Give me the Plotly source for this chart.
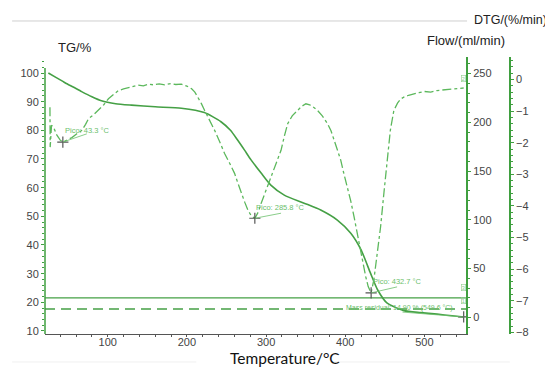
import plotly.graph_objects as go

# ---------------- data ----------------
tg_temp = [25, 35, 46, 57, 67, 80, 92, 110, 130, 160, 193, 222, 243, 255, 264, 273, 281,
           294, 306, 323, 348, 369, 390, 407, 420, 432, 441, 453, 474, 495, 516, 535, 549.6]
tg_mass = [100, 98.4, 96.6, 95.0, 93.5, 91.7, 90.3, 89.3, 88.8, 88.2, 87.7, 86.2, 83.0, 80.0,
           76.6, 73.0, 69.7, 65.0, 60.9, 57.4, 54.6, 52.2, 48.7, 44.1, 38.3, 30.1, 24.3, 19.7,
           17.1, 16.4, 15.9, 15.3, 14.9]

dtg_temp = [27, 27.3, 29, 31.7, 35.8, 40, 43.3, 48, 54.7, 61, 67.3, 72, 75.7, 82, 88.3, 95,
            100.9, 107, 113.5, 120, 130, 138, 145, 151, 158, 165, 172, 180, 186, 193, 200,
            205.7, 210, 214, 218, 222.4, 228, 235, 241, 247.6, 254, 260.2, 264, 268.6, 273,
            277, 281, 285.8, 290, 293.7, 300, 306.3, 312, 318.9, 323, 327.3, 333, 339.9, 345,
            350.3, 355, 360, 365, 371, 377.6, 382, 386, 390, 394.3, 398, 402.8, 407, 411.1,
            415, 419.5, 423, 425.8, 429, 432.7, 436.2, 440, 444.7, 449, 453.1, 457, 461.4,
            466, 470, 474, 480, 486.6, 493, 500, 508, 516, 524, 532, 540, 545.3, 549.6]
dtg_rate = [-0.88, -2.14, -1.45, -1.52, -1.76, -1.92, -1.98, -1.93, -1.84, -1.72, -1.61,
            -1.42, -1.24, -1.12, -0.98, -0.80, -0.61, -0.48, -0.35, -0.30, -0.22, -0.18,
            -0.20, -0.15, -0.17, -0.14, -0.17, -0.13, -0.16, -0.15, -0.21, -0.29, -0.40,
            -0.56, -0.75, -0.98, -1.25, -1.61, -1.95, -2.34, -2.65, -2.97, -3.25, -3.60,
            -3.88, -4.13, -4.30, -4.39, -4.20, -3.92, -3.50, -3.08, -2.68, -2.24, -1.80,
            -1.40, -1.15, -0.98, -0.85, -0.77, -0.80, -0.88, -0.98, -1.15, -1.40, -1.62,
            -1.92, -2.22, -2.55, -2.95, -3.39, -3.85, -4.34, -4.85, -5.39, -5.85, -6.23,
            -6.55, -6.75, -6.33, -5.60, -4.65, -3.55, -2.55, -1.60, -0.98, -0.75, -0.62,
            -0.56, -0.50, -0.45, -0.42, -0.38, -0.40, -0.35, -0.33, -0.31, -0.30, -0.29, -0.27]

flow_temp = [20.75, 552.8]
flow_gas1 = [20, 20]
flow_gas2 = [8.5, 8.5]

peak_temp = [43.3, 285.8, 432.7]
peak_dtg = [-1.98, -4.39, -6.75]
peak_labels = ["Pico: 43.3 °C", "Pico: 285.8 °C", "Pico: 432.7 °C"]
residual_temp = 549.6
residual_mass = 14.9
residual_label = "Mass residual: 14.90 % (549.6 °C)"

x_ticks = [100, 200, 300, 400, 500]

# ---------------- styling ----------------
GREEN = "#45a045"
LGREEN = "#5cb85c"
TXTG = "#6cc06c"
AXG = "#3f9f3f"
TICKFONT = dict(family="Liberation Sans, Arial", size=11, color="#444")

fig = go.Figure()

fig.add_trace(go.Scatter(x=flow_temp, y=flow_gas1, yaxis="y2", mode="lines",
                         line=dict(color=GREEN, width=1.4), showlegend=False))
fig.add_trace(go.Scatter(x=flow_temp, y=flow_gas2, yaxis="y2", mode="lines",
                         line=dict(color=GREEN, width=1.4, dash="10px,6px"), showlegend=False))
fig.add_trace(go.Scatter(x=dtg_temp, y=dtg_rate, yaxis="y3", mode="lines",
                         line=dict(color=LGREEN, width=1.3, dash="dashdot"), showlegend=False))
fig.add_trace(go.Scatter(x=tg_temp, y=tg_mass, yaxis="y", mode="lines",
                         line=dict(color=GREEN, width=1.6, shape="spline", smoothing=0.6),
                         showlegend=False))
fig.add_trace(go.Scatter(x=peak_temp, y=peak_dtg, yaxis="y3", mode="markers",
                         marker=dict(symbol="cross-thin", size=8, line=dict(color="#555", width=1.2)),
                         showlegend=False))
fig.add_trace(go.Scatter(x=[residual_temp], y=[residual_mass], yaxis="y", mode="markers",
                         marker=dict(symbol="cross-thin", size=8, line=dict(color="#555", width=1.2)),
                         showlegend=False))

shapes = []
annotations = []
# leader lines and peak labels
leader_end = [(73.6, -1.72), (318.9, -4.23), (465.5, -6.56)]
label_pos = [(42.9, -1.63), (284.9, -4.06), (432.1, -6.40)]
for (t, d), (ex, ey), (lx, ly), lab in zip(zip(peak_temp, peak_dtg), leader_end, label_pos, peak_labels):
    shapes.append(dict(type="line", xref="x", yref="y3", x0=t, y0=d, x1=ex, y1=ey,
                       line=dict(color=TXTG, width=0.8)))
    annotations.append(dict(x=lx, y=ly, xref="x", yref="y3", text=lab, showarrow=False,
                            xanchor="left", yanchor="middle",
                            font=dict(family="Liberation Sans, Arial", size=7.5, color=TXTG)))
shapes.append(dict(type="line", xref="x", yref="y", x0=472.3, y0=16.6, x1=residual_temp,
                   y1=residual_mass, line=dict(color=TXTG, width=0.8)))
annotations.append(dict(x=398, y=18.0, xref="x", yref="y", text=residual_label, showarrow=False,
                        xanchor="left", yanchor="middle",
                        font=dict(family="Liberation Sans, Arial", size=7, color=TXTG)))
for lab, yy, ref in [("2", -0.08, "y3"), ("3", 27, "y2"), ("1", 14, "y2")]:
    annotations.append(dict(x=549, y=yy, xref="x", yref=ref, text=lab, showarrow=False,
                            xanchor="center", yanchor="bottom", bordercolor="#8fcf8f",
                            borderwidth=0.6, borderpad=0,
                            font=dict(family="Liberation Sans, Arial", size=6, color="#8fcf8f")))

# left axis line (shorter than plot height)
shapes.append(dict(type="line", xref="paper", yref="paper", x0=0, x1=0, y0=0, y1=0.96,
                   line=dict(color=AXG, width=1.5)))
# decorative grey lines
shapes.append(dict(type="line", xref="paper", yref="paper", x0=-0.07, x1=0.898, y0=1.13, y1=1.13,
                   line=dict(color="#cfcfcf", width=1)))
shapes.append(dict(type="line", xref="paper", yref="paper", x0=-0.07, x1=0.322, y0=-0.101, y1=-0.101,
                   line=dict(color="#f0f0f0", width=1)))
shapes.append(dict(type="line", xref="paper", yref="paper", x0=0.608, x1=0.989, y0=-0.101, y1=-0.101,
                   line=dict(color="#f0f0f0", width=1)))

# titles
TF = dict(family="Liberation Sans, Arial", size=13, color="#222")
annotations += [
    dict(x=0.0636, y=1.0325, xref="paper", yref="paper", text="TG/%", showarrow=False,
         xanchor="center", yanchor="middle", font=TF),
    dict(x=0.896, y=1.058, xref="paper", yref="paper", text="Flow/(ml/min)", showarrow=False,
         xanchor="center", yanchor="middle", font=TF),
    dict(x=1.073, y=1.134, xref="paper", yref="paper", text="DTG/(%/min)", showarrow=False,
         xanchor="right", yanchor="middle",
         font=dict(family="Liberation Sans, Arial", size=12.5, color="#222")),
    dict(x=0.511, y=-0.088, xref="paper", yref="paper", text="Temperature/°C", showarrow=False,
         xanchor="center", yanchor="middle",
         font=dict(family="Lato, Open Sans", size=15.5, color="#111")),
]

# page body has an 8px default margin; figure is sized/margined to compensate
fig.update_layout(
    width=545, height=360,
    margin=dict(l=35, r=38, t=49, b=34),
    paper_bgcolor="white", plot_bgcolor="white",
    shapes=shapes, annotations=annotations,
    xaxis=dict(domain=[0, 0.8962], range=[20.75, 552.8], tickvals=x_ticks,
               showline=True, linecolor="#555", linewidth=1.2, ticks="outside",
               ticklen=2, tickcolor="#555", showgrid=False, zeroline=False,
               ticklabelstandoff=-4,
               minor=dict(dtick=20, tick0=0, ticks="outside", ticklen=2, tickcolor="#555"),
               tickfont=TICKFONT),
    yaxis=dict(range=[8.95, 105.58], tickvals=[10, 20, 30, 40, 50, 60, 70, 80, 90, 100],
               showline=False, ticks="outside", ticklen=3, tickcolor=AXG,
               showgrid=False, zeroline=False,
               minor=dict(dtick=2, tick0=0, ticks="outside", ticklen=2.5, tickcolor=AXG),
               tickfont=TICKFONT),
    yaxis2=dict(range=[-17.1, 267], overlaying="y", side="right", anchor="x",
                tickvals=[0, 50, 100, 150, 200, 250], showline=True, linecolor=AXG, linewidth=1.5,
                ticks="outside", ticklen=3, tickcolor=AXG, showgrid=False, zeroline=False,
                minor=dict(dtick=10, tick0=0, ticks="outside", ticklen=2.5, tickcolor=AXG),
                tickfont=TICKFONT),
    yaxis3=dict(range=[-8.05, 0.71], overlaying="y", side="right", anchor="free", position=0.9894,
                tickvals=[0, -1, -2, -3, -4, -5, -6, -7, -8], showline=True, linecolor=AXG,
                linewidth=1.5, ticks="outside", ticklen=3, tickcolor=AXG, showgrid=False,
                zeroline=False,
                minor=dict(dtick=0.2, tick0=0, ticks="outside", ticklen=2.5, tickcolor=AXG),
                tickfont=TICKFONT),
)

fig.write_html("out.html")
